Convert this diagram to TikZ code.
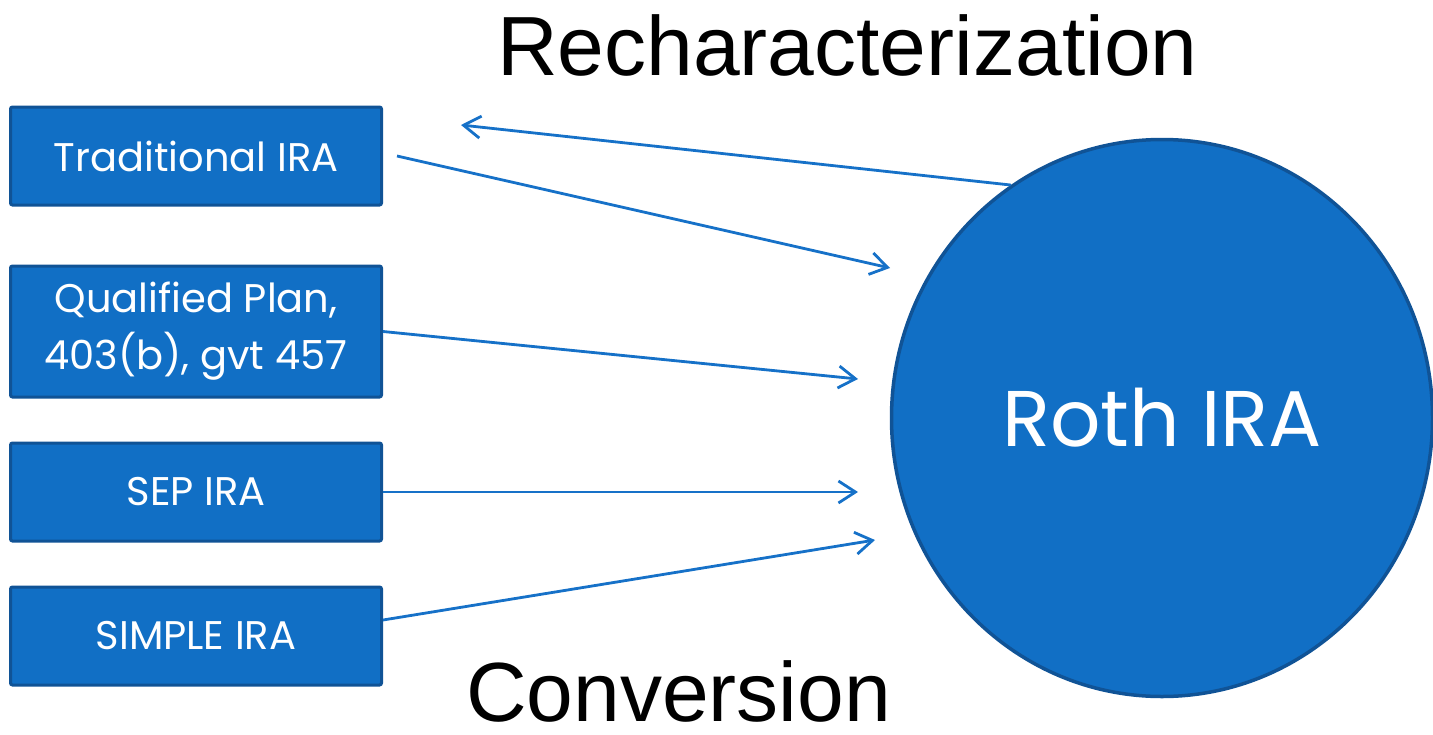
\documentclass[tikz,border=0pt]{standalone}
\usepackage{fontspec}
\setmainfont{Poppins}
\newfontfamily\arialf{Liberation Sans}
\usetikzlibrary{arrows.meta,shapes.geometric}
\definecolor{boxfill}{RGB}{17,111,197}
\definecolor{boxline}{RGB}{16,83,150}
\definecolor{arrowc}{RGB}{22,113,200}
\begin{document}
\begin{tikzpicture}[x=1pt,y=-1pt,
  acct/.style={draw=boxline, line width=3pt, fill=boxfill, rounded corners=2pt,
    minimum width=371pt, minimum height=98pt, text=white, inner sep=0pt,
    font=\fontsize{40}{57}\selectfont, align=center},
  conn/.style={draw=arrowc, line width=2.8pt, -{Straight Barb[length=17pt,width=22pt]}},
  title/.style={font=\arialf\fontsize{84}{100}\selectfont, inner sep=0pt, anchor=base west}]
\useasboundingbox (0,0) rectangle (1433,734);
\node[acct] (trad) at (196,156) {Traditional IRA};
\node[acct, minimum height=131pt] (qual) at (196,331.5) {Qualified Plan,\\403(b), gvt 457};
\node[acct] (sep) at (196,492) {SEP IRA};
\node[acct] (simple) at (196,636) {SIMPLE IRA};
\node[ellipse, draw=boxline, line width=3.5pt, fill=boxfill, minimum width=541pt,
  minimum height=557pt, inner sep=0pt, text=white,
  font=\fontsize{79}{90}\selectfont] (roth) at (1162,418) {Roth IRA};
\node[title] (rech) at (497,75) {Recharacterization};
\node[title] (conv) at (466,721) {Conversion};
\coordinate (t1) at (890,268);
\coordinate (t2) at (858,379);
\coordinate (t3) at (858,492);
\coordinate (t4) at (875,540);
\coordinate (t5) at (461,125);
\draw[conn] ([xshift=14pt]trad.east) -- (t1);
\draw[conn] (qual.east) -- (t2);
\draw[conn] (sep.east) -- (t3);
\draw[conn] ([yshift=16pt]simple.east) -- (t4);
\draw[conn] (roth.123) -- (t5);
\end{tikzpicture}
\end{document}
